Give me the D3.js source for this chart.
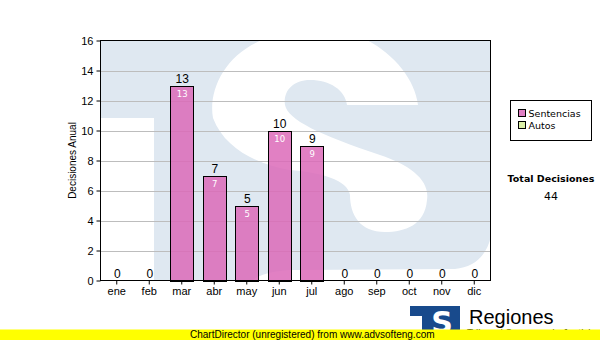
<!DOCTYPE html>
<html>
<head>
<meta charset="utf-8">
<script src="https://cdn.jsdelivr.net/npm/d3@7"></script>
<style>
  body { margin: 0; background: #fff; }
  svg { display: block; }
</style>
</head>
<body>
<svg id="chart" width="600" height="340"></svg>
<script>
// data
const months = ['ene','feb','mar','abr','may','jun','jul','ago','sep','oct','nov','dic'];
const sentencias = [0, 0, 13, 7, 5, 10, 9, 0, 0, 0, 0, 0];
const yTicks = [0, 2, 4, 6, 8, 10, 12, 14, 16];
const legendItems = [
  {name: 'Sentencias', color: '#e07fc4'},
  {name: 'Autos', color: '#dcf0a8'}
];
const totalDecisiones = 44;

const svg = d3.select('#chart');
const width = +svg.attr('width');
const height = +svg.attr('height');

const plot = {left: 100.5, top: 40.5, width: 390, height: 240};

const x = d3.scaleBand()
    .domain(months)
    .range([plot.left, plot.left + plot.width])
    .paddingInner(0.29)
    .paddingOuter(0.145);

const y = d3.scaleLinear()
    .domain([0, 16])
    .range([plot.top + plot.height, plot.top]);

svg.append('defs').append('clipPath').attr('id', 'plotclip')
  .append('rect')
    .attr('x', plot.left).attr('y', plot.top)
    .attr('width', plot.width).attr('height', plot.height);

// watermark "TS" logo behind the plot
const wm = svg.append('g').attr('clip-path', 'url(#plotclip)');
wm.append('rect')
    .attr('x', plot.left).attr('y', plot.top)
    .attr('width', plot.width).attr('height', plot.height)
    .attr('fill', '#dfe8f1');
wm.append('rect')
    .attr('x', plot.left).attr('y', 118)
    .attr('width', 154 - plot.left).attr('height', 170)
    .attr('fill', '#fff');
wm.append('path')
    .attr('d', 'M262,40 L367,40 C395,55 415,80 418,105 L347,105 ' +
               'C345,90 330,80 310,80 C292,80 283,92 285,105 ' +
               'C288,120 320,135 380,155 C410,165 430,180 427,200 ' +
               'C425,225 405,232 385,232 C360,232 350,215 350,195 ' +
               'C348,180 320,172 290,170 C260,165 225,150 213,118 ' +
               'C208,90 225,55 262,40 Z')
    .attr('fill', '#fff');
wm.append('path')
    .attr('d', 'M250,282 C262,272 280,270 300,270 L455,269 ' +
               'C475,267 487,255 491,236 L491,282 Z')
    .attr('fill', '#fff');

// grid lines
svg.append('g')
  .selectAll('line')
  .data(yTicks.filter(d => d > 0 && d < 16))
  .join('line')
    .attr('x1', plot.left).attr('x2', plot.left + plot.width)
    .attr('y1', d => Math.round(y(d)) + 0.5).attr('y2', d => Math.round(y(d)) + 0.5)
    .attr('stroke', '#bdbdbd');

// bars
const barData = months.map((m, i) => ({month: m, value: sentencias[i]}));

svg.append('g')
  .selectAll('rect')
  .data(barData.filter(d => d.value > 0))
  .join('rect')
    .attr('x', d => Math.round(x(d.month)) + 0.5)
    .attr('y', d => Math.round(y(d.value)) + 0.5)
    .attr('width', Math.round(x.bandwidth()))
    .attr('height', d => Math.round(y(0)) - Math.round(y(d.value)))
    .attr('fill', '#dc6ab8')
    .attr('fill-opacity', 0.85)
    .attr('stroke', '#000');

svg.append('g')
  .selectAll('text')
  .data(barData)
  .join('text')
    .attr('x', d => x(d.month) + x.bandwidth() / 2 + 0.5)
    .attr('y', d => y(d.value) - 3)
    .attr('text-anchor', 'middle')
    .attr('font-family', 'Liberation Sans, Arial, sans-serif')
    .attr('font-size', 12)
    .text(d => d.value);

svg.append('g')
  .selectAll('text')
  .data(barData.filter(d => d.value > 0))
  .join('text')
    .attr('x', d => x(d.month) + x.bandwidth() / 2 + 0.5)
    .attr('y', d => y(d.value) + 11)
    .attr('text-anchor', 'middle')
    .attr('font-family', 'DejaVu Sans, Verdana, sans-serif')
    .attr('font-size', 8.5)
    .attr('fill', '#fff')
    .text(d => d.value);

// axes
const gy = svg.append('g')
    .attr('transform', `translate(${plot.left},0)`)
    .call(d3.axisLeft(y).tickValues(yTicks).tickSize(4).tickPadding(3));
const gx = svg.append('g')
    .attr('transform', `translate(0,${plot.top + plot.height})`)
    .call(d3.axisBottom(x).tickSize(4).tickPadding(3));

[gx, gy].forEach(g => {
  g.select('.domain').remove();
  g.selectAll('text')
    .attr('font-family', 'Liberation Sans, Arial, sans-serif')
    .attr('font-size', 11)
    .attr('fill', '#000');
  g.selectAll('line').attr('stroke', '#000');
});

svg.append('rect')
    .attr('x', plot.left).attr('y', plot.top)
    .attr('width', plot.width).attr('height', plot.height)
    .attr('fill', 'none')
    .attr('stroke', '#000');

svg.append('text')
    .attr('transform', `translate(76,${plot.top + plot.height / 2}) rotate(-90)`)
    .attr('text-anchor', 'middle')
    .attr('font-family', 'Liberation Sans, Arial, sans-serif')
    .attr('font-size', 10)
    .text('Decisiones Anual');

// legend
const legend = svg.append('g').attr('transform', 'translate(510.5,100.5)');
legend.append('rect')
    .attr('width', 81).attr('height', 40)
    .attr('fill', '#fff')
    .attr('stroke', '#000');
const li = legend.selectAll('g.item')
  .data(legendItems)
  .join('g')
    .attr('class', 'item')
    .attr('transform', (d, i) => `translate(8,${9 + i * 12})`);
li.append('rect')
    .attr('width', 7).attr('height', 7)
    .attr('fill', d => d.color)
    .attr('stroke', '#000');
li.append('text')
    .attr('x', 10).attr('y', 7.5)
    .attr('font-family', 'DejaVu Sans, Verdana, sans-serif')
    .attr('font-size', 9.5)
    .text(d => d.name);

svg.append('text')
    .attr('x', 551).attr('y', 182)
    .attr('text-anchor', 'middle')
    .attr('font-family', 'DejaVu Sans, Verdana, sans-serif')
    .attr('font-size', 9.5)
    .attr('font-weight', 'bold')
    .text('Total Decisiones');
svg.append('text')
    .attr('x', 551).attr('y', 200)
    .attr('text-anchor', 'middle')
    .attr('font-family', 'DejaVu Sans, Verdana, sans-serif')
    .attr('font-size', 11)
    .text(totalDecisiones);

// small logo bottom right
const logo = svg.append('g');
logo.append('rect')
    .attr('x', 410).attr('y', 306).attr('width', 50).attr('height', 30)
    .attr('fill', '#184a8c');
logo.append('rect')
    .attr('x', 410).attr('y', 316).attr('width', 12).attr('height', 20)
    .attr('fill', '#fff');
logo.append('text')
    .attr('x', 442).attr('y', 333)
    .attr('text-anchor', 'middle')
    .attr('font-family', 'DejaVu Sans, Arial, sans-serif')
    .attr('font-weight', 'bold')
    .attr('font-size', 30)
    .attr('fill', '#fff')
    .text('S');
logo.append('text')
    .attr('x', 469).attr('y', 324)
    .attr('font-family', 'Liberation Sans, Arial, sans-serif')
    .attr('font-size', 20)
    .text('Regiones');
logo.append('text')
    .attr('x', 467).attr('y', 337)
    .attr('font-family', 'Liberation Sans, Arial, sans-serif')
    .attr('font-size', 10)
    .text('Tribunal Supremo de Justicia');

// unregistered banner
svg.append('rect')
    .attr('x', 0).attr('y', 329.5).attr('width', width).attr('height', 11)
    .attr('fill', '#ffff00');
svg.append('text')
    .attr('x', 190).attr('y', 338)
    .attr('font-family', 'Liberation Sans, Arial, sans-serif')
    .attr('font-size', 10)
    .text('ChartDirector (unregistered) from www.advsofteng.com');
</script>
</body>
</html>
